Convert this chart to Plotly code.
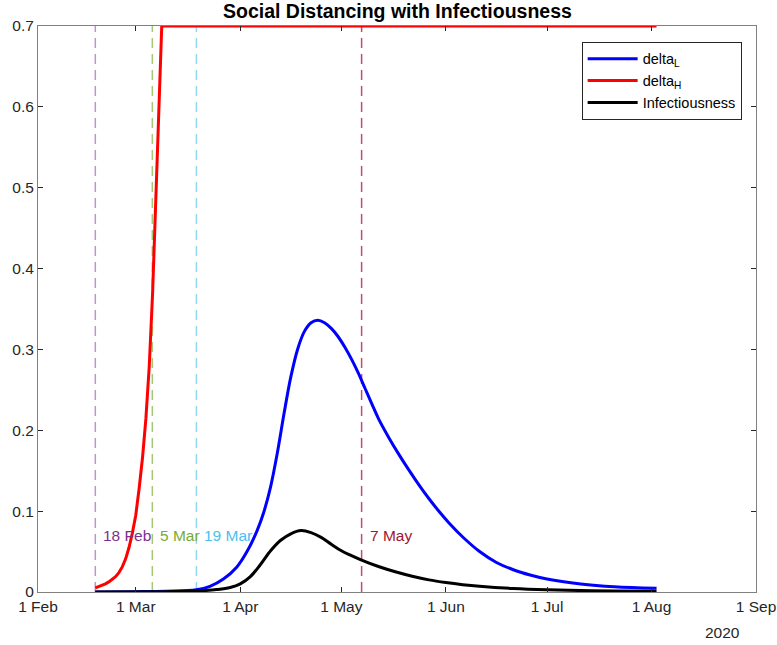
import plotly.graph_objects as go

# ---- data ----
tick_dates = ["2020-02-01", "2020-03-01", "2020-04-01", "2020-05-01", "2020-06-01",
              "2020-07-01", "2020-08-01", "2020-09-01"]
tick_labels = ["1 Feb", "1 Mar", "1 Apr", "1 May", "1 Jun", "1 Jul", "1 Aug", "1 Sep"]
y_ticks = [0, 0.1, 0.2, 0.3, 0.4, 0.5, 0.6, 0.7]
y_tick_labels = ["0", "0.1", "0.2", "0.3", "0.4", "0.5", "0.6", "0.7"]

red_dates = ["2020-02-18", "2020-02-19", "2020-02-20", "2020-02-21", "2020-02-22",
             "2020-02-23", "2020-02-24", "2020-02-25", "2020-02-26", "2020-02-27",
             "2020-02-28", "2020-02-29", "2020-03-01", "2020-03-02", "2020-03-03",
             "2020-03-04", "2020-03-05", "2020-03-06", "2020-03-07", "2020-03-08",
             "2020-03-08 17:00", "2020-08-02 12:00"]
red_vals = [0.005, 0.0065, 0.008, 0.010, 0.0125, 0.0155, 0.019, 0.024, 0.031, 0.041,
            0.055, 0.073, 0.095, 0.128, 0.166, 0.214, 0.279, 0.37, 0.49, 0.61,
            0.70, 0.70]

blue_dates = ["2020-02-18", "2020-03-01", "2020-03-10", "2020-03-19", "2020-03-23",
              "2020-03-27", "2020-03-31", "2020-04-03", "2020-04-06", "2020-04-08",
              "2020-04-10", "2020-04-12", "2020-04-14", "2020-04-16", "2020-04-18",
              "2020-04-20", "2020-04-22", "2020-04-24", "2020-04-26", "2020-04-28",
              "2020-04-30", "2020-05-02", "2020-05-04", "2020-05-06", "2020-05-08",
              "2020-05-10", "2020-05-12", "2020-05-15", "2020-05-18", "2020-05-21",
              "2020-05-24", "2020-05-27", "2020-05-30", "2020-06-02", "2020-06-06",
              "2020-06-11", "2020-06-16", "2020-06-21", "2020-06-26", "2020-07-01",
              "2020-07-11", "2020-07-21", "2020-08-02 12:00"]
blue_vals = [0.0, 0.0004, 0.001, 0.0027, 0.007, 0.016, 0.031, 0.050, 0.076, 0.099,
             0.130, 0.172, 0.221, 0.266, 0.300, 0.322, 0.333, 0.336, 0.333, 0.326,
             0.316, 0.303, 0.288, 0.271, 0.252, 0.233, 0.2145, 0.1915, 0.1705, 0.151,
             0.1325, 0.1153, 0.0995, 0.085, 0.068, 0.050, 0.0365, 0.0275, 0.021, 0.016,
             0.010, 0.0066, 0.0046]

black_dates = ["2020-02-18", "2020-03-10", "2020-03-19", "2020-03-25", "2020-03-29",
               "2020-04-01", "2020-04-04", "2020-04-07", "2020-04-10", "2020-04-13",
               "2020-04-16", "2020-04-19", "2020-04-22", "2020-04-25", "2020-04-28",
               "2020-05-01", "2020-05-04", "2020-05-07", "2020-05-12", "2020-05-17",
               "2020-05-22", "2020-05-27", "2020-06-01", "2020-06-06", "2020-06-11",
               "2020-06-21", "2020-07-01", "2020-07-11", "2020-07-21", "2020-08-02 12:00"]
black_vals = [0.0, 0.0004, 0.0012, 0.003, 0.0055, 0.010, 0.019, 0.034, 0.051, 0.064,
              0.072, 0.076, 0.0735, 0.0675, 0.059, 0.051, 0.045, 0.0395, 0.0315, 0.025,
              0.0195, 0.015, 0.0117, 0.0091, 0.0071, 0.0043, 0.0027, 0.0018, 0.0013,
              0.001]

event_dates = ["2020-02-18", "2020-03-05 22:00", "2020-03-19", "2020-05-07"]
event_labels = ["18 Feb", "5 Mar", "19 Mar", "7 May"]
event_text_colors = ["#7E2F8E", "#77AC30", "#4DBEEE", "#A2142F"]
event_line_colors = ["#BF94CC", "#A4C876", "#94D5F0", "#C24E66"]
event_label_y = 0.07

FONT = "Liberation Sans, Arial, Helvetica, sans-serif"

fig = go.Figure()
fig.add_trace(go.Scatter(x=blue_dates, y=blue_vals, mode="lines", name="delta<sub>L</sub>",
                         line=dict(color="#0000FF", width=3, shape="spline", smoothing=1)))
fig.add_trace(go.Scatter(x=red_dates, y=red_vals, mode="lines", name="delta<sub>H</sub>",
                         line=dict(color="#FF0000", width=3)))
fig.add_trace(go.Scatter(x=black_dates, y=black_vals, mode="lines", name="Infectiousness",
                         line=dict(color="#000000", width=3, shape="spline", smoothing=1)))

for d, lab, tc, lc in zip(event_dates, event_labels, event_text_colors, event_line_colors):
    fig.add_shape(type="line", xref="x", yref="paper", x0=d, x1=d, y0=0, y1=1,
                  line=dict(color=lc, width=1.5, dash="10px,6px"), layer="below")
    fig.add_annotation(x=d, y=event_label_y, xref="x", yref="y", text=lab, showarrow=False,
                       xanchor="left", yanchor="middle", xshift=6,
                       font=dict(family=FONT, size=15.5, color=tc))

fig.add_annotation(x=0.954, y=-0.071, xref="paper", yref="paper", text="2020",
                   showarrow=False, xanchor="center", yanchor="middle",
                   font=dict(family=FONT, size=15.5, color="#262626"))

fig.update_layout(
    width=777, height=645,
    margin=dict(l=38, r=21, t=26, b=53),
    paper_bgcolor="white", plot_bgcolor="white",
    title=dict(text="<b>Social Distancing with Infectiousness</b>", x=0.5115, xanchor="center",
               y=0.983, yanchor="middle", font=dict(family=FONT, size=19.5, color="black")),
    font=dict(family=FONT, size=15.5, color="#262626"),
    showlegend=True,
    legend=dict(x=0.98, xanchor="right", y=0.972, yanchor="top",
                bgcolor="white", bordercolor="#262626", borderwidth=1,
                font=dict(family=FONT, size=14.5, color="black"),
                tracegroupgap=0, itemwidth=50),
)
fig.update_xaxes(range=["2020-02-01", "2020-09-01"], tickvals=tick_dates, ticktext=tick_labels,
                 ticks="inside", ticklen=5, tickcolor="#262626", showline=True,
                 linecolor="#808080", linewidth=1, mirror="ticks", showgrid=False,
                 zeroline=False, automargin=False, tickfont=dict(size=15.5, color="#262626"))
fig.update_yaxes(range=[0, 0.7], tickvals=y_ticks, ticktext=y_tick_labels,
                 ticks="inside", ticklen=5, tickcolor="#262626", showline=True,
                 linecolor="#808080", linewidth=1, mirror="ticks", showgrid=False,
                 zeroline=False, automargin=False, tickfont=dict(size=15.5, color="#262626"))

fig.write_html("out.html", config={"displayModeBar": False},
               post_script="document.body.style.margin='0px';")
